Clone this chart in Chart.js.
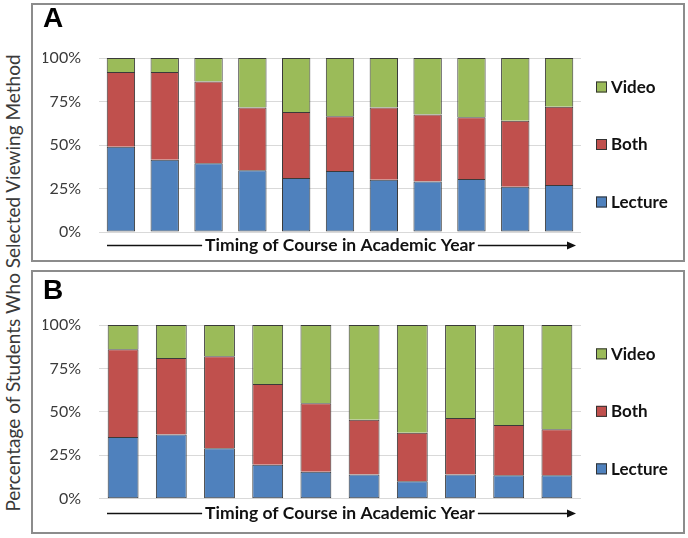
<!DOCTYPE html>
<html>
<head>
<meta charset="utf-8">
<script src="https://cdn.jsdelivr.net/npm/chart.js@4.4.1/dist/chart.umd.min.js"></script>
<style>
    html, body { margin: 0; padding: 0; background: #fff; }
    body { width: 688px; height: 538px; position: relative; overflow: hidden; }
    .panel { position: absolute; left: 31px; width: 654px; box-sizing: border-box; border: 2px solid #8c8c8c; }
    #panelA { top: 3px; height: 259px; }
    #panelB { top: 270px; height: 264px; }
    .panel canvas { display: block; }
    #yTitle {
        position: absolute; left: 12px; top: 283px;
        transform: translate(-50%, -50%) rotate(-90deg);
        white-space: nowrap; font: 19px Lato, sans-serif; color: #3a3a3a;
    }
</style>
</head>
<body>
<div id="yTitle">Percentage of Students Who Selected Viewing Method</div>
<div class="panel" id="panelA"><canvas id="chartA"></canvas></div>
<div class="panel" id="panelB"><canvas id="chartB"></canvas></div>
<script>
/* Stacked share of viewing method per course, two panels (A, B). */

// Series and ticks
var seriesNames = ["Lecture", "Both", "Video"];
var seriesColors = ["#4f81bd", "#c0504d", "#9bbb59"];
var yTicks = [0, 25, 50, 75, 100];
var xTitle = "Timing of Course in Academic Year";

// Panel A: 11 courses
var coursesA = ["1", "2", "3", "4", "5", "6", "7", "8", "9", "10", "11"];
var lectureA = [49, 41.5, 39.5, 35.5, 31, 35, 30, 29, 30.5, 26, 27];
var bothA = [43, 50.5, 47, 36, 38, 31.5, 41.5, 38.5, 35.5, 38, 45];
var videoA = [8, 8, 13.5, 28.5, 31, 33.5, 28.5, 32.5, 34, 36, 28];

// Panel B: 10 courses
var coursesB = ["1", "2", "3", "4", "5", "6", "7", "8", "9", "10"];
var lectureB = [35.5, 37, 29, 19.5, 15.5, 14, 10, 14, 13.5, 13.5];
var bothB = [50.5, 44, 53, 46.5, 39.5, 31.5, 28, 32.5, 29, 26.5];
var videoB = [14, 19, 18, 34, 45, 54.5, 62, 53.5, 57.5, 60];

// Legend drawn to the right of the plot, spread out vertically (Video on top).
var sideLegend = {
    id: "sideLegend",
    afterDraw: function (chart) {
        var ctx = chart.ctx;
        var ca = chart.chartArea;
        var mid = (ca.top + ca.bottom) / 2 - 0.5;
        var sets = chart.data.datasets.slice().reverse();
        ctx.save();
        ctx.font = "bold 17px Lato";
        ctx.textBaseline = "middle";
        ctx.textAlign = "left";
        sets.forEach(function (ds, i) {
            var y = mid + (i - 1) * 57.5;
            var x = ca.right + 15;
            ctx.fillStyle = ds.backgroundColor;
            ctx.fillRect(x, y - 5.5, 11, 11);
            ctx.strokeStyle = "#333";
            ctx.lineWidth = 1;
            ctx.strokeRect(x + 0.5, y - 5, 10, 10);
            ctx.fillStyle = "#111";
            ctx.fillText(ds.label, x + 15, y + 0.5);
        });
        ctx.restore();
    }
};

// Lines either side of the x title, with an arrowhead on the right.
var arrowTitle = {
    id: "arrowTitle",
    afterDraw: function (chart) {
        var xs = chart.scales.x;
        var t = xs.options.title;
        var ca = chart.chartArea;
        var lh = t.font.size * 1.2;
        var y = Math.round(xs.bottom - lh / 2 - t.padding.bottom) + 0.5;
        var ctx = chart.ctx;
        ctx.save();
        ctx.font = "bold " + t.font.size + "px Lato";
        var w = ctx.measureText(t.text).width;
        var cx = (ca.left + ca.right) / 2;
        var endX = ca.right - 5;
        ctx.strokeStyle = "#111";
        ctx.lineWidth = 1.5;
        ctx.beginPath();
        ctx.moveTo(ca.left + 8, y);
        ctx.lineTo(cx - w / 2 - 3, y);
        ctx.moveTo(cx + w / 2 + 3, y);
        ctx.lineTo(endX - 6, y);
        ctx.stroke();
        ctx.fillStyle = "#111";
        ctx.beginPath();
        ctx.moveTo(endX, y);
        ctx.lineTo(endX - 9, y - 4);
        ctx.lineTo(endX - 9, y + 4);
        ctx.closePath();
        ctx.fill();
        ctx.restore();
    }
};

function makePanel(canvasId, letter, cats, lecture, both, video, geo) {
    var values = [lecture, both, video];
    new Chart(document.getElementById(canvasId), {
        type: "bar",
        data: {
            labels: cats,
            datasets: values.map(function (v, i) {
                return {
                    label: seriesNames[i],
                    data: v,
                    backgroundColor: seriesColors[i],
                    // only the bottom segment keeps its base edge, so joins stay 1px
                    borderSkipped: i === 0 ? false : "start"
                };
            })
        },
        options: {
            responsive: true,
            maintainAspectRatio: false,
            animation: false,
            layout: { padding: { left: 10, right: 102, top: 0, bottom: 0 } },
            datasets: {
                bar: {
                    barPercentage: geo.bar,
                    categoryPercentage: 1,
                    borderWidth: 1,
                    borderColor: "#3a3a3a"
                }
            },
            plugins: {
                legend: { display: false },
                tooltip: { enabled: false },
                title: {
                    display: true,
                    text: letter,
                    align: "start",
                    color: "#000",
                    font: { family: "Liberation Sans", size: 28, weight: "bold", lineHeight: 1 },
                    padding: { top: geo.titleTop, bottom: geo.titleBottom }
                }
            },
            scales: {
                x: {
                    stacked: true,
                    grid: { display: false, drawTicks: false },
                    border: { display: false },
                    ticks: { display: false },
                    title: {
                        display: true,
                        text: xTitle,
                        color: "#111",
                        font: { family: "Lato", size: 17.5, weight: "bold" },
                        padding: { top: geo.xTop, bottom: geo.xBottom }
                    }
                },
                y: {
                    stacked: true,
                    min: 0,
                    max: 100,
                    afterBuildTicks: function (scale) {
                        scale.ticks = yTicks.map(function (v) { return { value: v }; });
                    },
                    afterFit: function (scale) { scale.width = 56; },
                    grid: { color: "#d9d9d9", drawTicks: false },
                    border: { display: false },
                    ticks: {
                        padding: 18,
                        color: "#3a3a3a",
                        font: { family: "Lato", size: 16 },
                        callback: function (v) { return v + "%"; }
                    }
                }
            }
        },
        plugins: [sideLegend, arrowTitle]
    });
}

makePanel("chartA", "A", coursesA, lectureA, bothA, videoA,
    { bar: 0.647, titleTop: 0, titleBottom: 25, xTop: 2.5, xBottom: 4.5 });
makePanel("chartB", "B", coursesB, lectureB, bothB, videoB,
    { bar: 0.64, titleTop: 5, titleBottom: 20, xTop: 4, xBottom: 8.3 });
</script>
</body>
</html>
